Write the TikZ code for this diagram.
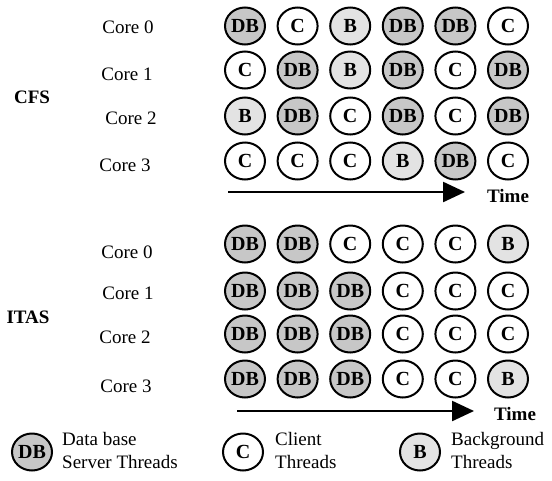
\documentclass[tikz,border=0pt]{standalone}
\usepackage{fontspec}
\setmainfont{Liberation Serif}
\usetikzlibrary{arrows.meta,shapes.geometric}
\definecolor{DbFill}{gray}{0.78}
\definecolor{BgFill}{gray}{0.89}
\tikzset{
  figure/.style={x=1pt,y=-1pt,font=\fontsize{19}{23}\selectfont},
  thread/.style={ellipse,draw=black,line width=2pt,minimum width=40pt,minimum height=37pt,inner sep=0pt,font=\fontsize{20}{20}\selectfont\bfseries},
  dbthread/.style={thread,fill=DbFill},
  clthread/.style={thread,fill=white},
  bgthread/.style={thread,fill=BgFill},
  legendtext/.style={anchor=west,align=left,inner sep=0pt},
  heading/.style={font=\fontsize{19}{23}\selectfont\bfseries},
  timeline/.style={-{Triangle[length=22pt,width=20pt]},line width=2.4pt,draw=black},
}

\begin{document}
\begin{tikzpicture}[figure]
  \useasboundingbox (0,0) rectangle (552,480);

  % CFS schedule
  \node[heading] (cfs) at (32,97) {CFS};
  \node (cfscore0) at (128,27) {Core 0};
  \node (cfscore1) at (127,74) {Core 1};
  \node (cfscore2) at (131,118) {Core 2};
  \node (cfscore3) at (125,165) {Core 3};

  \foreach \kind/\lab [count=\c from 0] in {dbthread/DB,clthread/C,bgthread/B,dbthread/DB,dbthread/DB,clthread/C}
    \node[\kind] (cfs0-\c) at (245+52.6*\c,26) {\lab};
  \foreach \kind/\lab [count=\c from 0] in {clthread/C,dbthread/DB,bgthread/B,dbthread/DB,clthread/C,dbthread/DB}
    \node[\kind] (cfs1-\c) at (245+52.6*\c,70) {\lab};
  \foreach \kind/\lab [count=\c from 0] in {bgthread/B,dbthread/DB,clthread/C,dbthread/DB,clthread/C,dbthread/DB}
    \node[\kind] (cfs2-\c) at (245+52.6*\c,116) {\lab};
  \foreach \kind/\lab [count=\c from 0] in {clthread/C,clthread/C,clthread/C,bgthread/B,dbthread/DB,clthread/C}
    \node[\kind] (cfs3-\c) at (245+52.6*\c,161) {\lab};

  \coordinate (cfsstart) at (228,192);
  \coordinate (cfsend) at (465,192);
  \draw[timeline] (cfsstart) -- (cfsend);
  \node[heading] (cfstime) at (508,196) {Time};

  % ITAS schedule
  \node[heading] (itas) at (28,317) {ITAS};
  \node (itascore0) at (127,252) {Core 0};
  \node (itascore1) at (128,293) {Core 1};
  \node (itascore2) at (125,337) {Core 2};
  \node (itascore3) at (126,386) {Core 3};

  \foreach \kind/\lab [count=\c from 0] in {dbthread/DB,dbthread/DB,clthread/C,clthread/C,clthread/C,bgthread/B}
    \node[\kind] (itas0-\c) at (245+52.6*\c,244) {\lab};
  \foreach \kind/\lab [count=\c from 0] in {dbthread/DB,dbthread/DB,dbthread/DB,clthread/C,clthread/C,clthread/C}
    \node[\kind] (itas1-\c) at (245+52.6*\c,291) {\lab};
  \foreach \kind/\lab [count=\c from 0] in {dbthread/DB,dbthread/DB,dbthread/DB,clthread/C,clthread/C,clthread/C}
    \node[\kind] (itas2-\c) at (245+52.6*\c,334) {\lab};
  \foreach \kind/\lab [count=\c from 0] in {dbthread/DB,dbthread/DB,dbthread/DB,clthread/C,clthread/C,bgthread/B}
    \node[\kind] (itas3-\c) at (245+52.6*\c,379) {\lab};

  \coordinate (itasstart) at (237,411);
  \coordinate (itasend) at (474,411);
  \draw[timeline] (itasstart) -- (itasend);
  \node[heading] (itastime) at (515,414) {Time};

  % legend
  \node[dbthread] (keydb) at (32,452) {DB};
  \node[legendtext] (keydbtext) at (62,450) {Data base\\Server Threads};
  \node[clthread] (keycl) at (243,452) {C};
  \node[legendtext] (keycltext) at (275,450) {Client\\Threads};
  \node[bgthread] (keybg) at (420,452) {B};
  \node[legendtext] (keybgtext) at (451,450) {Background\\Threads};
\end{tikzpicture}
\end{document}
